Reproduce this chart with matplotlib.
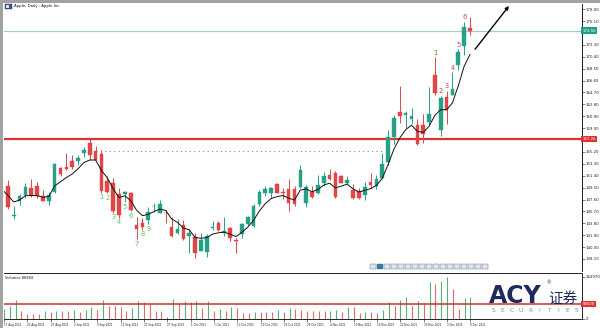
import matplotlib
matplotlib.use('Agg')
import matplotlib.pyplot as plt
import matplotlib.transforms as mtransforms
from matplotlib.patches import Rectangle
import numpy as np
import pandas as pd

# ---------------- data ----------------
dates = ["17 Aug 2021", "18 Aug 2021", "19 Aug 2021", "20 Aug 2021", "23 Aug 2021", "24 Aug 2021",
         "25 Aug 2021", "26 Aug 2021", "27 Aug 2021", "30 Aug 2021", "31 Aug 2021", "1 Sep 2021",
         "2 Sep 2021", "3 Sep 2021", "7 Sep 2021", "8 Sep 2021", "9 Sep 2021", "10 Sep 2021",
         "13 Sep 2021", "14 Sep 2021", "15 Sep 2021", "16 Sep 2021", "17 Sep 2021", "20 Sep 2021",
         "21 Sep 2021", "22 Sep 2021", "23 Sep 2021", "24 Sep 2021", "27 Sep 2021", "28 Sep 2021",
         "29 Sep 2021", "30 Sep 2021", "1 Oct 2021", "4 Oct 2021", "5 Oct 2021", "6 Oct 2021",
         "7 Oct 2021", "8 Oct 2021", "11 Oct 2021", "12 Oct 2021", "13 Oct 2021", "14 Oct 2021",
         "15 Oct 2021", "18 Oct 2021", "19 Oct 2021", "20 Oct 2021", "21 Oct 2021", "22 Oct 2021",
         "25 Oct 2021", "26 Oct 2021", "27 Oct 2021", "28 Oct 2021", "29 Oct 2021", "1 Nov 2021",
         "2 Nov 2021", "3 Nov 2021", "4 Nov 2021", "5 Nov 2021", "8 Nov 2021", "9 Nov 2021",
         "10 Nov 2021", "11 Nov 2021", "12 Nov 2021", "15 Nov 2021", "16 Nov 2021", "17 Nov 2021",
         "18 Nov 2021", "19 Nov 2021", "22 Nov 2021", "23 Nov 2021", "24 Nov 2021", "26 Nov 2021",
         "29 Nov 2021", "30 Nov 2021", "1 Dec 2021", "2 Dec 2021", "3 Dec 2021", "6 Dec 2021",
         "7 Dec 2021", "8 Dec 2021", "9 Dec 2021"]

opens = [150.23, 149.80, 145.03, 147.44, 148.31, 149.45, 149.70, 148.20, 147.30, 148.80,
         152.60, 152.80, 153.80, 153.70, 154.97, 156.70, 155.35, 154.80, 150.60, 150.30,
         148.50, 148.50, 148.70, 143.50, 143.90, 144.30, 146.50, 145.50, 145.47, 143.16,
         142.30, 143.53, 141.80, 141.66, 139.43, 139.27, 143.06, 143.90, 142.27, 143.00,
         141.10, 142.11, 143.75, 143.40, 146.90, 148.60, 148.70, 150.10, 148.68, 149.20,
         149.25, 149.60, 147.00, 148.85, 148.60, 150.20, 151.50, 151.80, 151.35, 150.20,
         149.10, 149.00, 148.30, 150.35, 149.76, 150.98, 153.64, 157.65, 161.52, 161.10,
         160.50, 159.50, 159.50, 160.00, 167.40, 158.74, 164.02, 164.29, 169.08, 172.13,
         174.91]
highs = [151.68, 150.72, 146.60, 148.50, 150.19, 150.86, 150.32, 149.12, 148.75, 153.49,
         152.80, 154.98, 154.72, 154.63, 156.00, 157.26, 156.11, 155.48, 151.42, 151.07,
         149.44, 148.97, 148.82, 144.84, 144.60, 146.43, 147.08, 147.47, 145.96, 144.75,
         144.45, 144.38, 142.92, 142.21, 142.24, 142.15, 144.22, 144.18, 144.81, 143.25,
         141.40, 143.88, 144.90, 146.84, 149.17, 149.75, 149.64, 150.18, 149.37, 150.84,
         149.73, 153.17, 149.94, 149.70, 151.57, 151.97, 152.43, 152.20, 151.57, 151.43,
         150.13, 149.43, 150.40, 151.88, 151.49, 155.00, 158.67, 161.02, 165.70, 161.80,
         162.14, 160.45, 161.19, 165.52, 170.30, 164.20, 164.96, 167.88, 171.58, 175.96,
         176.75]
lows = [149.09, 146.15, 144.50, 146.78, 147.89, 148.00, 147.80, 147.30, 146.70, 148.61,
        151.29, 152.34, 152.40, 153.09, 154.39, 153.98, 153.90, 148.70, 148.60, 145.50,
        144.70, 147.22, 145.70, 141.27, 142.78, 143.70, 145.64, 145.50, 143.82, 141.69,
        142.03, 141.20, 139.11, 138.27, 139.36, 138.37, 142.72, 142.56, 141.81, 141.04,
        139.06, 141.51, 143.51, 143.16, 146.55, 148.12, 147.87, 148.60, 147.62, 145.80,
        146.50, 149.50, 146.41, 147.80, 148.50, 149.82, 150.64, 147.80, 150.16, 150.06,
        147.70, 147.68, 147.48, 149.43, 149.34, 150.90, 153.05, 156.53, 159.80, 159.06,
        159.64, 156.36, 156.60, 159.50, 164.30, 157.80, 159.72, 164.28, 168.34, 170.70,
        173.92]
closes = [150.19, 146.36, 145.10, 148.10, 149.60, 148.30, 148.20, 147.40, 148.30, 153.20,
          151.75, 152.45, 152.80, 154.20, 155.50, 154.70, 153.90, 148.90, 148.75, 145.80,
          145.10, 148.75, 145.90, 142.85, 143.25, 145.65, 146.60, 146.85, 145.37, 141.80,
          142.84, 141.25, 142.20, 139.11, 141.13, 141.77, 143.16, 142.73, 142.60, 141.40,
          140.91, 143.70, 144.80, 146.50, 148.75, 149.25, 149.40, 148.65, 148.60, 147.00,
          146.90, 152.30, 149.60, 147.95, 149.90, 151.35, 150.80, 147.95, 150.30, 150.70,
          147.80, 147.80, 149.55, 149.90, 150.83, 153.27, 157.60, 160.55, 161.00, 161.40,
          160.90, 156.50, 158.00, 161.20, 164.60, 163.76, 161.84, 165.32, 171.18, 175.08,
          174.56]
prior_closes = [145.60, 145.86, 148.89, 149.10, 151.12]

volumes = [39000, 51870, 74100, 32370, 19500, 19500, 19500, 32370, 26130, 32370,
           32370, 32370, 35100, 26130, 35100, 45630, 35100, 74100, 51870, 51870,
           45630, 32370, 41730, 71370, 65130, 58500, 32370, 32370, 7800, 78000,
           61230, 71370, 67470, 69030, 42900, 71370, 30030, 39000, 32370, 47970,
           41730, 22230, 22230, 26130, 26130, 26130, 26130, 35100, 26130, 41730,
           39000, 35100, 32370, 32370, 30030, 30030, 32370, 35100, 26130, 47970,
           47970, 22230, 26130, 26130, 22230, 35100, 65130, 51870, 74100, 86970,
           51870, 69030, 58500, 143130, 136500, 147030, 164970, 117000, 39000, 81900,
           86984]

resistance = 157.26          # red horizontal level
dotted_level = 155.40        # grey dotted level
dotted_span = (16, 65)
bid = 174.56
vol_level = 58500
buy_count_bars = list(range(17, 26))     # green 1..9
sell_count_bars = list(range(74, 80))    # red 1..6
arrow_from = (80.87, 171.6)
arrow_to = (86.66, 178.5)
price_ticks = [138.10 + 1.90 * k for k in range(22)]

# ---------------- style ----------------
GREEN = '#26a087'
RED = '#e04646'
TDG = '#5cc05c'
TDR = '#c24a4a'
AXFS = 2.8

W, H = 600, 328
fig = plt.figure(figsize=(W / 100, H / 100), dpi=100)
fig.patch.set_facecolor('white')


def fx(px):
    return px / W


def fy(py):
    return 1 - py / H


px_per_bar = 5.85
x0_px = 2.0
left_px, right_px = 4.0, 581.5
xlim = ((left_px - x0_px) / px_per_bar, (right_px - x0_px) / px_per_bar)

ax = fig.add_axes([fx(left_px), fy(271), fx(right_px) - fx(left_px), fy(4) - fy(271)])
axv = fig.add_axes([fx(left_px), fy(319), fx(right_px) - fx(left_px), fy(273) - fy(319)])

o = np.array(opens)
h = np.array(highs)
l = np.array(lows)
c = np.array(closes)
x = np.arange(len(c))
cols = np.where(c >= o, GREEN, RED)

# EMA(5)
ema = pd.Series(prior_closes + closes).ewm(span=5, adjust=False).mean().values[len(prior_closes):]

# lines
ax.axhline(bid, color='#a9cbc7', lw=0.9, zorder=1)
ax.axhline(resistance, color='#d83434', lw=1.6, zorder=1)
ax.hlines(dotted_level, dotted_span[0], dotted_span[1], color='#8a8a8a', lw=0.8,
          linestyles=(0, (1, 3)), zorder=1)

# candles
ax.vlines(x, l, h, colors=cols, lw=0.7, zorder=2)
body_low = np.minimum(o, c)
body_h = np.maximum(np.abs(c - o), 0.14)
ax.bar(x, body_h, bottom=body_low, width=0.62, color=cols, edgecolor=cols, linewidth=0.3, zorder=3)

ax.plot(x, ema, color='#111111', lw=0.7, zorder=4)

# TD counts
for k, i in enumerate(buy_count_bars):
    ax.annotate(str(k + 1), (i, l[i]), xytext=(0, -3.4), textcoords='offset points',
                ha='center', va='center', fontsize=4.8, color=TDG, zorder=5)
for k, i in enumerate(sell_count_bars):
    ax.annotate(str(k + 1), (i, h[i]), xytext=(0, 3.4), textcoords='offset points',
                ha='center', va='center', fontsize=4.8, color=TDR, zorder=5)

ax.annotate('', xy=arrow_to, xytext=arrow_from,
            arrowprops=dict(arrowstyle='-|>', color='black', lw=1.0, mutation_scale=5,
                            shrinkA=0, shrinkB=0), annotation_clip=False, zorder=6)

ax.set_xlim(*xlim)
ax.set_ylim(138.1 - 12 / 6.263, 138.1 + 255 / 6.263)

# right price axis
ticks = [t for t in price_ticks if abs(t - bid) > 1.0 and abs(t - resistance) > 1.0]
ax.yaxis.tick_right()
ax.set_yticks(ticks)
ax.set_yticklabels([f"{t:.2f}" for t in ticks])
ax.tick_params(axis='y', labelsize=AXFS, length=2, width=0.4, pad=0.8, colors='#222222')
ax.tick_params(axis='x', bottom=False, labelbottom=False)
for s in ['left', 'top', 'bottom']:
    ax.spines[s].set_visible(False)
ax.spines['right'].set_linewidth(0.6)

trans = mtransforms.blended_transform_factory(ax.transAxes, ax.transData)
ax.text(1.002, bid, f"{bid:.2f}", transform=trans, fontsize=AXFS, color='white', va='center',
        ha='left', bbox=dict(boxstyle='square,pad=0.3', fc='#1f9e8a', ec='none'), zorder=7)
ax.text(1.002, resistance, f"{resistance:.2f}", transform=trans, fontsize=AXFS, color='white',
        va='center', ha='left', bbox=dict(boxstyle='square,pad=0.3', fc='#e03030', ec='none'),
        zorder=7)

# ---------------- volume panel ----------------
vol = np.array(volumes)
vcols = ['#3aa463' if i == 0 or vol[i] > vol[i - 1] else '#d9534f' for i in range(len(vol))]
axv.vlines(x, 0, vol, colors=vcols, lw=0.8, alpha=0.85)
axv.axhline(vol_level, color='#c83030', lw=1.1)
axv.set_xlim(*xlim)
axv.set_ylim(0, 46 * 3900)
axv.yaxis.tick_right()
axv.set_yticks([0, vol.max()])
axv.set_yticklabels(['0', str(vol.max())])
axv.tick_params(axis='y', labelsize=AXFS, length=2, width=0.4, pad=0.8, colors='#222222')
transv = mtransforms.blended_transform_factory(axv.transAxes, axv.transData)
axv.text(1.002, vol_level, str(vol_level), transform=transv, fontsize=AXFS, color='white',
         va='center', ha='left', bbox=dict(boxstyle='square,pad=0.3', fc='#e03030', ec='none'))
axv.set_xticks(x[::4])
axv.set_xticklabels([dates[i] for i in x[::4]], ha='left')
axv.tick_params(axis='x', labelsize=2.0, length=2, width=0.4, pad=0.8, colors='#222222')
axv.spines['left'].set_visible(False)
for s in ['top', 'bottom', 'right']:
    axv.spines[s].set_linewidth(0.6)
axv.text(0.002, 0.93, f"Volumes {volumes[-1]}", transform=axv.transAxes, fontsize=2.6,
         va='top', ha='left', color='#111111')

# ---------------- frame, title, decorations ----------------
fig.patches.append(Rectangle((0, 0), fx(2.7), 1, transform=fig.transFigure, fc='#a2a2a2',
                             ec='none', zorder=10))
fig.patches.append(Rectangle((0, fy(2.7)), 1, 2.7 / H, transform=fig.transFigure, fc='#a2a2a2',
                             ec='none', zorder=10))
fig.patches.append(Rectangle((fx(5), fy(9)), 7 / W, 5 / H, transform=fig.transFigure,
                             fc='#3550a5', ec='#203070', lw=0.3, zorder=10))
fig.patches.append(Rectangle((fx(6), fy(8)), 2.5 / W, 3 / H, transform=fig.transFigure,
                             fc='#f4e6a0', ec='none', zorder=11))
fig.text(fx(14), fy(6.5), "Apple, Daily : Apple Inc", fontsize=2.8, va='center', ha='left',
         color='#111111')

# small object strip
for k in range(17):
    fc = '#2f7fa0' if k == 1 else '#dfe4ee'
    fig.patches.append(Rectangle((fx(370 + k * 7.0), fy(269)), 6.4 / W, 4.6 / H,
                                 transform=fig.transFigure, fc=fc, ec='#5a6a8a', lw=0.3,
                                 zorder=9))

# ACY logo
fig.text(fx(489), fy(303), "ACY", fontsize=17, fontweight='heavy', color='#1c2b5c',
         ha='left', va='baseline', family='DejaVu Sans', zorder=12)
fig.text(fx(546), fy(283), "®", fontsize=3.5, color='#1c2b5c', ha='left', va='center', zorder=12)
fig.text(fx(548), fy(303), "证券", fontsize=10.5, color='#1c2b5c', ha='left', va='baseline',
         family=['Noto Sans CJK SC', 'DejaVu Sans'], zorder=12)
for k, ch in enumerate("SECURITIES"):
    fig.text(fx(493 + k * 9.3), fy(310), ch, fontsize=4.2, color='#7d8aa0', ha='center',
             va='center', zorder=12)

fig.savefig('out.png', dpi=100, facecolor='white')
